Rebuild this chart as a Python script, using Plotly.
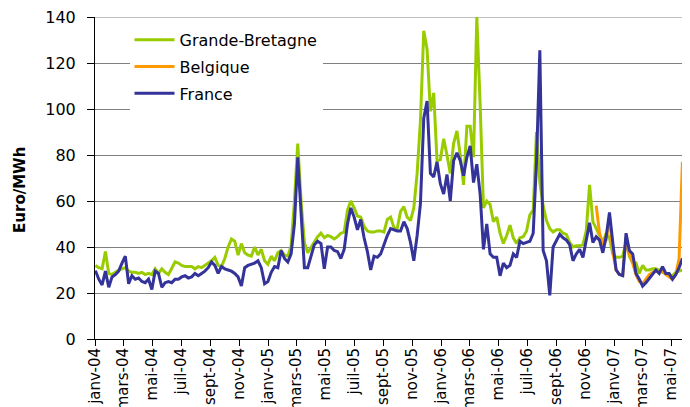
import pandas as pd
import plotly.graph_objects as go

# Weekly spot prices (Euro/MWh), first week starting 2004-01-02
week_start = "2004-01-02"

grande_bretagne = [
    32, 31, 30.5, 38, 28.5, 28, 29, 30, 30.5, 31,
    29.5, 29, 29, 28.5, 29, 28, 28.5, 28, 30.5, 28.5,
    30.5, 29, 28, 31, 33.5, 33, 32, 31.5, 31.5, 31.5,
    30.5, 31.5, 31, 32, 33, 34, 35.5, 32, 31.5, 35,
    40, 43.5, 42.5, 36.5, 41.5, 37.5, 36.5, 36, 40, 36.5,
    39, 34, 32.5, 36, 34, 37.5, 38.5, 36.5, 36, 40.5,
    60, 85, 60, 42, 37.5, 40, 42.5, 44.5, 46, 44,
    45, 44.5, 43.5, 44.5, 46, 46.5, 56, 60, 57, 53.5,
    53, 49, 47, 46.5, 46.5, 47, 47, 46.5, 52, 53,
    48.5, 48, 55.5, 57.5, 53, 51.5, 57, 72, 95, 134,
    126, 99, 107, 77.5, 78, 87, 80, 72, 85, 90.5,
    80, 67, 92.5, 92.5, 79, 140, 102, 57, 60, 58.5,
    51, 53, 46, 41.5, 45, 49.5, 44, 41.5, 44, 44.5,
    47, 54, 56, 90, 68, 58, 51.5, 48, 46.5, 47.5,
    47.5, 46, 45.5, 42, 40, 40.5, 40.5, 41, 47, 67,
    51, 48, 45, 42, 46, 44, 37, 35.5, 35.5, 36,
    42, 36, 33, 33, 28.5, 32, 30, 30, 30.5, 30.5,
    30, 29, 28.5, 27.5, 27.5, 29, 29.5, 30, 30, 31.5,
]

france = [
    29.7, 26, 23.5, 29.5, 22.5, 27, 28, 29.5, 33, 36,
    24, 27.5, 26, 26.5, 25, 24.5, 26, 21.5, 29.5, 28.5,
    22.5, 24.5, 25, 24.5, 26, 26, 27, 27.5, 26.5, 27,
    28.5, 27.5, 28.5, 29.5, 31, 33.5, 32, 28.5, 31.5, 30.5,
    30, 29.5, 28.5, 27, 23, 31, 32, 32.5, 33, 34,
    31, 24, 25, 29, 31.5, 31, 38.5, 35, 33.5, 37,
    50, 79, 52, 31, 31, 36, 41, 42.5, 41.5, 30.5,
    40, 40, 38.5, 38, 35, 39, 50, 57, 53, 47.5,
    52, 44, 38, 30, 36, 35.5, 37, 41, 45, 48,
    47.5, 47, 47, 51, 48, 42, 34, 45, 59, 96,
    103.5, 72, 70.5, 77, 67.5, 63, 71.5, 60, 77.5, 81,
    77.5, 71, 79, 84, 68, 76, 63, 39, 50, 37,
    35.5, 35.5, 27.5, 33, 31, 32, 37, 35.5, 42.5, 41.5,
    42, 42.5, 46, 77, 125.5, 38.5, 34, 19, 40, 42.5,
    45.5, 44, 43, 41, 34, 37, 39, 35.5, 42.5, 50.5,
    42, 44.5, 43, 37.5, 44.5, 55, 42, 30, 28, 27.5,
    46, 38.5, 37, 28.5, 26, 23, 24.5, 26.5, 28.5, 30,
    28.5, 31.5, 28.5, 28.5, 26, 28, 31, 35, 29.5, 26,
]

# Belgique series starts later (last weeks only)
belgique = [
    58, 46, 41, 43, 53, 38, 30, 28, 28,
    44, 37, 33, 28, 25, 24, 26, 28, 29, 29.5,
    29, 29.5, 28, 27, 26, 28, 35, 77, 32, 27,
]

tick_labels = [
    "janv-04", "mars-04", "mai-04", "juil-04", "sept-04", "nov-04",
    "janv-05", "mars-05", "mai-05", "juil-05", "sept-05", "nov-05",
    "janv-06", "mars-06", "mai-06", "juil-06", "sept-06", "nov-06",
    "janv-07", "mars-07", "mai-07",
]

y_max = 140

dates = pd.date_range(week_start, periods=len(france), freq="7D")
tick_dates = pd.date_range("2004-01-01", periods=len(tick_labels), freq="2MS")

FONT = "DejaVu Sans, Verdana, sans-serif"
GRID = "#808080"

fig = go.Figure()
fig.add_trace(go.Scatter(x=dates, y=grande_bretagne, name="Grande-Bretagne",
                         legendgroup="gb", mode="lines",
                         line=dict(color="#99CC00", width=3)))
fig.add_trace(go.Scatter(x=dates[len(dates) - len(belgique):], y=belgique,
                         name="Belgique", legendgroup="be", mode="lines",
                         line=dict(color="#FF9900", width=3)))
fig.add_trace(go.Scatter(x=dates, y=france, name="France",
                         legendgroup="fr", mode="lines",
                         line=dict(color="#333399", width=3)))

# page body has an 8px default margin: figure is sized to fill the rest
fig.update_layout(
    width=682, height=399,
    margin=dict(l=87, r=0, t=9, b=68),
    paper_bgcolor="white", plot_bgcolor="white",
    font=dict(family=FONT, size=16, color="black"),
    showlegend=True,
    legend=dict(x=0.058, y=0.982, xanchor="left", yanchor="top",
                bgcolor="white", borderwidth=0,
                traceorder="grouped", tracegroupgap=3,
                font=dict(family=FONT, size=16, color="black"),
                itemwidth=40),
    annotations=[dict(text="<b>Euro/MWh</b>", xref="paper", yref="paper",
                      x=-0.126, y=0.463, xanchor="center", yanchor="middle",
                      textangle=-90, showarrow=False,
                      font=dict(family=FONT, size=15, color="black"))],
    # top gridline (plotly drops gridlines lying on the plot edge)
    shapes=[dict(type="line", xref="paper", x0=0, x1=1, yref="y",
                 y0=y_max, y1=y_max, line=dict(color=GRID, width=1),
                 layer="below")],
)
fig.update_xaxes(
    type="date", range=["2004-01-01", "2007-06-10"],
    tickvals=tick_dates, ticktext=tick_labels, tickangle=-90,
    ticks="outside", ticklen=6, tickcolor="black",
    showline=True, linecolor="black", linewidth=1,
    showgrid=False, zeroline=False, automargin=False,
    ticklabelstandoff=-4,
    tickfont=dict(family=FONT, size=15, color="black"),
)
fig.update_yaxes(
    range=[0, y_max], dtick=20, tick0=0,
    ticks="outside", ticklen=7, tickcolor="black",
    showline=True, linecolor="black", linewidth=1,
    showgrid=True, gridcolor=GRID, gridwidth=1,
    zeroline=False, automargin=False, ticklabelstandoff=8,
    ticklabeloverflow="allow",
    tickfont=dict(family=FONT, size=16, color="black"),
)

fig.write_html("out.html")
